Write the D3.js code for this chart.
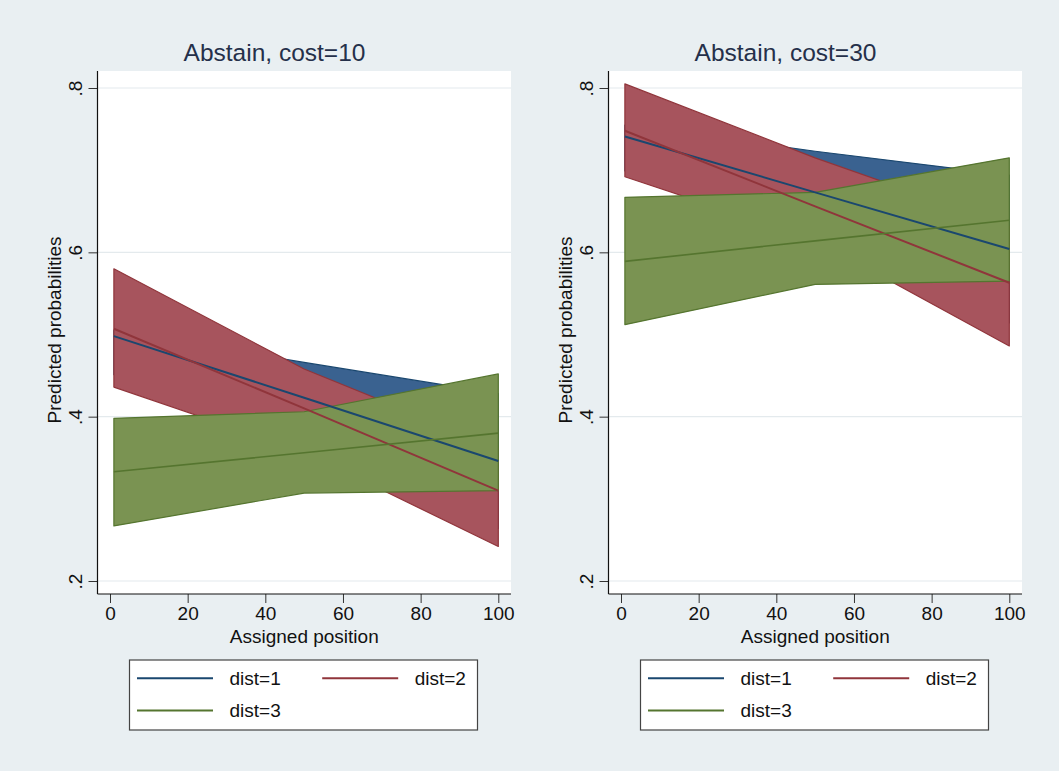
<!DOCTYPE html>
<html>
<head>
  <style>
    body { margin: 0; background: #e9eff2; }
    text { font-family: "Liberation Sans", Arial, sans-serif; }
  </style>
</head>
<body>
  <div id="chart"></div>

  <script src="https://cdnjs.cloudflare.com/ajax/libs/d3/7.8.5/d3.min.js"></script>
  <script>
    // x values at which the margins were computed
    const xPos = [1, 50, 100];

    const panelTitles = ["Abstain, cost=10", "Abstain, cost=30"];
    const seriesNames = ["dist=1", "dist=2", "dist=3"];

    // rows: dist=1, dist=2, dist=3 ; columns follow xPos
    const cost10Fit = [[0.498, 0.423, 0.346], [0.507, 0.410, 0.310], [0.333, 0.356, 0.380]];
    const cost10Lo  = [[0.451, 0.380, 0.264], [0.436, 0.357, 0.242], [0.267, 0.307, 0.310]];
    const cost10Hi  = [[0.505, 0.466, 0.428], [0.580, 0.458, 0.362], [0.398, 0.406, 0.452]];

    const cost30Fit = [[0.741, 0.673, 0.604], [0.748, 0.656, 0.563], [0.589, 0.614, 0.639]];
    const cost30Lo  = [[0.699, 0.623, 0.514], [0.692, 0.615, 0.486], [0.512, 0.561, 0.565]];
    const cost30Hi  = [[0.755, 0.723, 0.694], [0.805, 0.715, 0.632], [0.667, 0.673, 0.715]];

    const xTicks = [0, 20, 40, 60, 80, 100];
    const yTicks = [0.2, 0.4, 0.6, 0.8];
    const yTickLabels = [".2", ".4", ".6", ".8"];

    const lineColors = ["#1a476f", "#90353b", "#55752f"];
    const fillColors = ["#3a6290", "#a7545d", "#7a9352"];

    const width = 1059, height = 771;
    const svg = d3.select("#chart").append("svg")
      .attr("width", width).attr("height", height);

    svg.append("rect").attr("width", width).attr("height", height).attr("fill", "#e9eff2");

    const panels = [
      { title: panelTitles[0], fit: cost10Fit, lo: cost10Lo, hi: cost10Hi, dx: 0 },
      { title: panelTitles[1], fit: cost30Fit, lo: cost30Lo, hi: cost30Hi, dx: 511 }
    ];

    panels.forEach(p => {
      const x0 = 97.5 + p.dx, x1 = 511 + p.dx, y0 = 71, y1 = 594;
      const x = d3.scaleLinear().domain([0, 100]).range([110 + p.dx, 498.3 + p.dx]);
      const y = d3.scaleLinear().domain([0.2, 0.8]).range([581, 88]);
      const g = svg.append("g");

      // plot region
      g.append("rect").attr("x", x0).attr("y", y0)
        .attr("width", x1 - x0).attr("height", y1 - y0).attr("fill", "#fff");

      // grid
      g.selectAll(".grid").data(yTicks).join("line")
        .attr("x1", x0).attr("x2", x1)
        .attr("y1", d => y(d)).attr("y2", d => y(d))
        .attr("stroke", "#e4eaed").attr("stroke-width", 1.2);

      // bands
      const area = d3.area()
        .x(d => x(d.x)).y0(d => y(d.lo)).y1(d => y(d.hi));
      const line = d3.line().x(d => x(d.x)).y(d => y(d.v));

      [0, 1, 2].forEach(s => {
        const pts = xPos.map((xv, i) => ({ x: xv, lo: p.lo[s][i], hi: p.hi[s][i] }));
        g.append("path").datum(pts)
          .attr("d", area)
          .attr("fill", fillColors[s])
          .attr("stroke", lineColors[s])
          .attr("stroke-width", 1.2)
          .attr("stroke-linejoin", "round");
      });

      [0, 1, 2].forEach(s => {
        const pts = xPos.map((xv, i) => ({ x: xv, v: p.fit[s][i] }));
        g.append("path").datum(pts)
          .attr("d", line)
          .attr("fill", "none")
          .attr("stroke", lineColors[s])
          .attr("stroke-width", s === 2 ? 1.6 : 2);
      });

      // axes
      const xAxis = g.append("g")
        .attr("transform", `translate(0,${y1})`)
        .call(d3.axisBottom(x).tickValues(xTicks).tickSize(9).tickPadding(4).tickSizeOuter(0));
      const yAxis = g.append("g")
        .attr("transform", `translate(${x0},0)`)
        .call(d3.axisLeft(y).tickValues(yTicks).tickFormat((d, i) => yTickLabels[i])
          .tickSize(9).tickSizeOuter(0));

      [xAxis, yAxis].forEach(a => {
        a.select(".domain").remove();
        a.selectAll(".tick line").attr("stroke", "#333");
        a.selectAll("text").attr("fill", "#111").style("font-size", "19px")
          .style("font-family", '"Liberation Sans", Arial, sans-serif');
      });
      yAxis.selectAll("text")
        .attr("transform", "rotate(-90)")
        .attr("x", 0).attr("y", -16).attr("dy", 0)
        .attr("text-anchor", "middle");

      g.append("line").attr("x1", x0).attr("x2", x0).attr("y1", y0).attr("y2", y1)
        .attr("stroke", "#111").attr("stroke-width", 1.2);
      g.append("line").attr("x1", x0).attr("x2", x1).attr("y1", y1).attr("y2", y1)
        .attr("stroke", "#111").attr("stroke-width", 1.2);

      const cx = (x0 + x1) / 2;

      // titles
      g.append("text").attr("x", 274.5 + p.dx).attr("y", 61)
        .attr("text-anchor", "middle").attr("fill", "#25304a")
        .style("font-size", "24.5px").text(p.title);

      g.append("text").attr("x", cx).attr("y", 643)
        .attr("text-anchor", "middle").attr("fill", "#111")
        .style("font-size", "19px").text("Assigned position");

      g.append("text")
        .attr("transform", `translate(${61 + p.dx},${330}) rotate(-90)`)
        .attr("text-anchor", "middle").attr("fill", "#111")
        .style("font-size", "19px").text("Predicted probabilities");

      // legend
      const lx = 129.5 + p.dx, ly = 660;
      const leg = g.append("g").attr("transform", `translate(${lx},${ly})`);
      leg.append("rect").attr("width", 348).attr("height", 70)
        .attr("fill", "#fff").attr("stroke", "#444").attr("stroke-width", 1.2);
      const keyPos = [{ kx: 7.5, ky: 18.3 }, { kx: 192.7, ky: 18.3 }, { kx: 7.5, ky: 50.4 }];
      seriesNames.forEach((name, s) => {
        const k = keyPos[s];
        leg.append("line").attr("x1", k.kx).attr("x2", k.kx + 76)
          .attr("y1", k.ky).attr("y2", k.ky)
          .attr("stroke", lineColors[s]).attr("stroke-width", 2);
        leg.append("text").attr("x", k.kx + 92.5).attr("y", k.ky + 7)
          .attr("fill", "#111").style("font-size", "19px").text(name);
      });
    });
  </script>
</body>
</html>
